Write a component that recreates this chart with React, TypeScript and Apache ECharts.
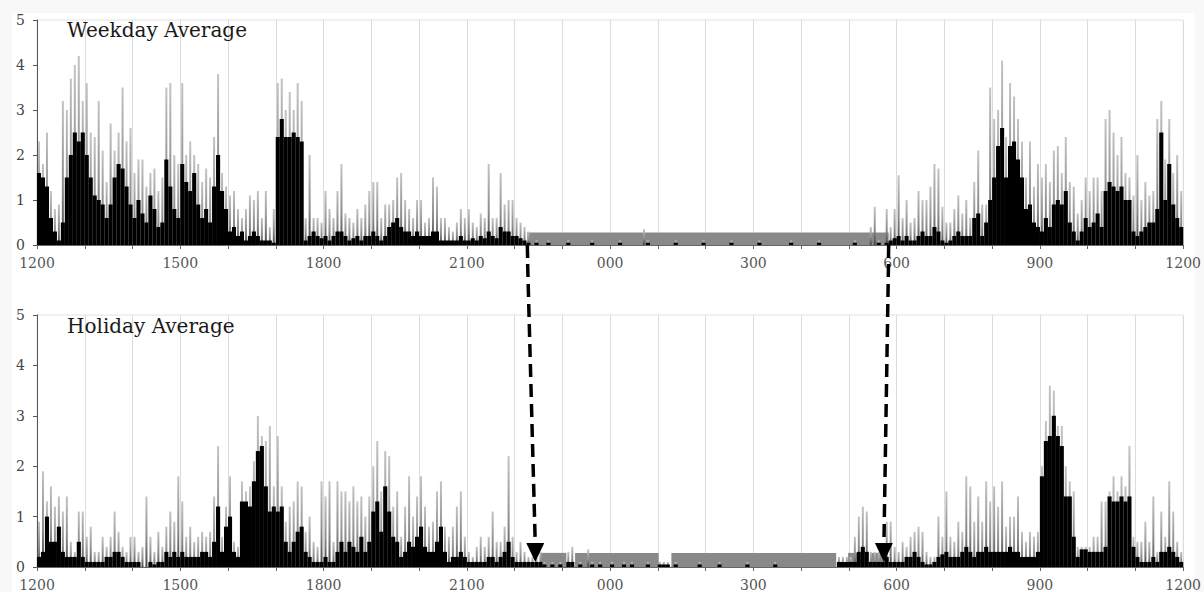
import React, { useEffect, useRef } from 'react';
import * as echarts from 'echarts';

// minutes after 12:00 noon, 5-minute bins (288 per day)
const BIN_MINUTES = 5;
const X_LABELS = ['1200', '1500', '1800', '2100', '000', '300', '600', '900', '1200'];
const PANEL_TITLES = ['Weekday Average', 'Holiday Average'];

// Weekday: black body of the distribution
const wdBody = [
  1.6, 1.5, 1.3, 0.6, 0.3, 0.1, 0.5, 1.5, 2.0, 2.5, 2.3, 2.5,
  2.0, 1.5, 1.1, 1.0, 0.9, 0.6, 0.9, 1.5, 1.8, 1.7, 1.3, 0.9,
  0.6, 1.0, 0.7, 0.5, 1.1, 0.8, 0.4, 0.5, 1.9, 1.3, 0.8, 0.6,
  1.8, 1.4, 1.2, 1.6, 0.9, 0.6, 0.8, 0.5, 1.3, 2.0, 1.2, 0.8,
  0.3, 0.4, 0.2, 0.3, 0.1, 0.2, 0.3, 0.2, 0.1, 0.1, 0.1, 0.05,
  2.4, 2.8, 2.4, 2.4, 2.5, 2.4, 2.3, 0.1, 0.2, 0.3, 0.2, 0.15,
  0.2, 0.1, 0.2, 0.3, 0.3, 0.2, 0.1, 0.15, 0.2, 0.1, 0.2, 0.2,
  0.3, 0.2, 0.1, 0.2, 0.4, 0.5, 0.6, 0.4, 0.3, 0.3, 0.2, 0.3,
  0.2, 0.2, 0.2, 0.3, 0.3, 0.1, 0.1, 0.1, 0.1, 0.1, 0.2, 0.1,
  0.1, 0.15, 0.1, 0.2, 0.15, 0.3, 0.2, 0.15, 0.4, 0.3, 0.3, 0.2,
  0.2, 0.15, 0.1, 0.05, 0, 0.05, 0, 0, 0.05, 0, 0, 0,
  0, 0.05, 0, 0, 0, 0, 0, 0.05, 0, 0, 0, 0,
  0, 0, 0.05, 0, 0, 0, 0, 0, 0, 0.05, 0, 0,
  0, 0, 0, 0, 0.05, 0, 0, 0, 0, 0, 0, 0.05,
  0, 0, 0, 0, 0, 0, 0.05, 0, 0, 0, 0, 0,
  0, 0.05, 0, 0, 0, 0, 0, 0, 0, 0.05, 0, 0,
  0, 0, 0, 0, 0.05, 0, 0, 0, 0, 0, 0, 0,
  0, 0.05, 0, 0, 0, 0, 0, 0.05, 0, 0.05, 0.1, 0.15,
  0.2, 0.1, 0.2, 0.1, 0.1, 0.2, 0.3, 0.2, 0.2, 0.4, 0.3, 0.1,
  0.05, 0.1, 0.2, 0.3, 0.2, 0.2, 0.2, 0.6, 0.7, 0.2, 0.5, 1.0,
  1.5, 2.2, 2.6, 1.5, 2.2, 2.3, 1.9, 1.5, 0.8, 0.9, 0.5, 0.4,
  0.3, 0.6, 0.4, 0.9, 1.0, 0.9, 1.2, 0.5, 0.3, 0.1, 0.3, 0.6,
  0.4, 0.5, 0.7, 0.4, 1.2, 1.4, 1.3, 1.2, 1.3, 1.0, 1.0, 0.3,
  0.2, 0.3, 0.4, 0.5, 0.5, 0.8, 2.5, 1.0, 1.8, 0.9, 0.6, 0.4,
];

// Weekday: peak values (light spikes)
const wdPeak = [
  2.3, 1.8, 2.5, 1.2, 0.8, 0.9, 3.2, 3.0, 3.7, 4.0, 4.2, 3.2,
  3.6, 2.5, 2.4, 3.2, 2.1, 1.4, 2.7, 2.1, 2.5, 3.5, 2.3, 2.6,
  1.6, 1.9, 1.9, 1.3, 1.6, 1.7, 1.2, 1.5, 3.5, 3.6, 2.0, 1.8,
  3.6, 2.0, 2.3, 2.0, 1.8, 1.4, 1.7, 1.5, 2.4, 3.8, 1.6, 1.3,
  1.1, 1.2, 0.8, 0.6, 0.8, 1.1, 1.0, 1.2, 0.6, 1.2, 0.4, 0.8,
  3.6, 3.7, 3.0, 3.4, 3.0, 3.6, 3.2, 0.6, 2.0, 0.6, 0.6, 0.5,
  1.2, 0.8, 0.6, 1.2, 1.8, 0.7, 0.6, 0.5, 0.8, 0.6, 0.9, 1.2,
  1.4, 1.4, 0.6, 0.9, 0.9, 1.0, 1.5, 1.6, 1.0, 0.8, 0.6, 1.0,
  1.0, 0.5, 0.6, 1.5, 1.3, 0.6, 0.6, 0.4, 0.3, 0.5, 0.8, 0.6,
  0.8, 0.5, 0.4, 0.7, 0.6, 1.8, 0.6, 0.6, 1.6, 0.9, 1.0, 1.0,
  0.6, 0.5, 0.4, 0.3, 0, 0.1, 0, 0, 0.1, 0, 0, 0,
  0, 0.1, 0, 0, 0, 0, 0, 0.1, 0, 0, 0, 0,
  0, 0, 0.1, 0, 0, 0, 0, 0, 0.35, 0.1, 0, 0,
  0, 0, 0, 0, 0.1, 0, 0, 0, 0, 0, 0, 0.1,
  0, 0, 0, 0, 0, 0, 0.1, 0, 0, 0, 0, 0,
  0, 0.1, 0, 0, 0, 0, 0, 0, 0, 0.1, 0, 0,
  0, 0, 0, 0, 0.1, 0, 0, 0, 0, 0, 0, 0,
  0, 0.1, 0, 0, 0, 0.4, 0.85, 0.1, 0, 0.8, 0.4, 0.8,
  1.55, 0.6, 1.0, 0.5, 0.6, 1.2, 1.0, 1.0, 1.3, 1.8, 1.7, 0.85,
  0.5, 0.5, 0.8, 1.1, 0.7, 1.0, 0.6, 1.4, 2.1, 0.9, 0.9, 3.5,
  2.8, 3.0, 4.1, 2.4, 3.6, 3.3, 2.8, 2.3, 1.5, 2.3, 1.3, 1.8,
  1.5, 1.8, 1.4, 2.1, 2.2, 1.6, 2.4, 1.4, 1.3, 0.7, 1.0, 1.5,
  1.2, 1.5, 1.5, 1.2, 2.8, 3.0, 2.5, 2.0, 2.4, 1.6, 1.5, 1.1,
  2.0, 1.0, 1.4, 1.1, 1.2, 2.8, 3.2, 1.9, 2.8, 1.6, 2.0, 1.2,
];

// Holiday: black body
const hdBody = [
  0.2, 0.3, 1.0, 0.5, 0.5, 0.8, 0.3, 0.2, 0.2, 0.2, 0.5, 0.2,
  0.1, 0.1, 0.1, 0.1, 0.1, 0.2, 0.2, 0.3, 0.3, 0.2, 0.1, 0.1,
  0.1, 0.1, 0, 0, 0.1, 0.05, 0.1, 0.1, 0.3, 0.2, 0.3, 0.2,
  0.3, 0.2, 0.2, 0.2, 0.2, 0.3, 0.3, 0.2, 0.5, 1.2, 0.3, 0.8,
  1.0, 0.3, 0.2, 1.3, 1.3, 1.2, 1.7, 2.3, 2.4, 1.6, 1.1, 1.2,
  1.1, 1.2, 0.5, 0.3, 0.5, 0.7, 0.8, 0.3, 0.2, 0.1, 0.1, 0.1,
  0.2, 0.1, 0.1, 0.3, 0.5, 0.3, 0.5, 0.4, 0.3, 0.6, 0.3, 0.5,
  1.1, 1.3, 0.7, 1.6, 1.1, 0.6, 0.5, 0.2, 0.3, 0.5, 0.4, 0.6,
  0.8, 0.4, 0.3, 0.3, 0.5, 0.8, 0.3, 0.1, 0.2, 0.2, 0.3, 0.2,
  0.1, 0.1, 0.1, 0.1, 0.1, 0.2, 0.2, 0.1, 0.2, 0.3, 0.5, 0.2,
  0.1, 0.1, 0.1, 0.1, 0.1, 0.1, 0.1, 0.05, 0, 0.05, 0, 0.05,
  0, 0.1, 0.1, 0, 0.05, 0, 0, 0.05, 0, 0.05, 0, 0,
  0.05, 0, 0, 0.05, 0, 0.05, 0, 0, 0, 0.05, 0, 0,
  0.05, 0.05, 0.05, 0, 0.05, 0, 0, 0, 0, 0, 0.05, 0,
  0, 0, 0, 0.05, 0, 0, 0, 0, 0, 0, 0.05, 0,
  0, 0, 0, 0, 0, 0.05, 0, 0, 0, 0, 0, 0,
  0, 0, 0, 0, 0, 0, 0, 0, 0, 0.1, 0.1, 0.1,
  0.1, 0.1, 0.3, 0.4, 0.3, 0.1, 0.1, 0.1, 0.1, 0.2, 0.1, 0.1,
  0.1, 0.1, 0.2, 0.2, 0.3, 0.2, 0.1, 0.05, 0.05, 0.1, 0.2, 0.25,
  0.3, 0.2, 0.2, 0.2, 0.3, 0.4, 0.3, 0.2, 0.3, 0.3, 0.4, 0.3,
  0.3, 0.3, 0.3, 0.3, 0.4, 0.3, 0.3, 0.2, 0.2, 0.2, 0.2, 0.3,
  1.8, 2.5, 2.6, 3.0, 2.6, 2.4, 1.4, 1.4, 0.6, 0.2, 0.35, 0.35,
  0.3, 0.3, 0.3, 0.3, 0.4, 1.4, 1.3, 1.3, 1.4, 1.3, 1.4, 0.4,
  0.2, 0.1, 0.1, 0.1, 0.2, 0.1, 0.3, 0.3, 0.4, 0.3, 0.2, 0.1,
];

// Holiday: peak values
const hdPeak = [
  0.9, 1.9, 1.3, 1.6, 1.2, 1.4, 1.1, 1.4, 0.5, 0.3, 1.1, 1.1,
  0.6, 0.8, 0.3, 0.3, 0.6, 0.4, 0.6, 1.1, 0.7, 0.4, 0.3, 0.6,
  0.6, 0.3, 0.4, 1.4, 0.6, 0.3, 0.7, 0.4, 0.8, 1.1, 0.9, 1.8,
  1.3, 0.6, 0.8, 0.5, 0.6, 0.7, 0.6, 0.7, 1.4, 2.4, 0.6, 1.2,
  1.8, 0.5, 0.4, 1.7, 1.5, 1.6, 2.1, 3.0, 2.6, 2.5, 2.8, 1.6,
  2.6, 1.6, 0.9, 1.2, 1.3, 1.7, 1.6, 0.7, 1.0, 0.5, 0.4, 1.7,
  1.4, 1.7, 0.5, 1.7, 1.5, 1.5, 1.3, 1.6, 1.3, 1.4, 1.0, 1.4,
  2.0, 2.5, 1.5, 2.3, 2.2, 1.2, 1.5, 0.6, 1.2, 1.8, 1.0, 1.4,
  1.8, 1.2, 0.8, 0.9, 1.5, 1.7, 0.8, 0.6, 0.8, 1.2, 1.5, 0.6,
  0.3, 0.2, 0.4, 0.6, 0.4, 0.6, 1.1, 0.5, 0.5, 0.8, 2.2, 0.6,
  0.3, 0.5, 0.3, 0.2, 0.2, 0.2, 0.3, 0.1, 0, 0.1, 0, 0.1,
  0, 0.3, 0.4, 0, 0.1, 0, 0.35, 0.1, 0, 0.1, 0, 0,
  0.1, 0, 0, 0.1, 0, 0.1, 0, 0, 0, 0.1, 0, 0,
  0.1, 0.1, 0.1, 0, 0.1, 0, 0, 0, 0, 0, 0.1, 0,
  0, 0, 0, 0.1, 0, 0, 0, 0, 0, 0, 0.1, 0,
  0, 0, 0, 0, 0, 0.1, 0, 0, 0, 0, 0, 0,
  0, 0, 0, 0, 0, 0, 0, 0, 0, 0.2, 0.2, 0.2,
  0.2, 0.6, 1.0, 1.2, 1.1, 0.3, 0.3, 0.3, 0.3, 0.9, 0.9, 0.4,
  0.3, 0.5, 0.4, 0.6, 0.7, 0.8, 0.7, 0.3, 0.2, 0.2, 1.0, 0.6,
  1.5, 0.6, 0.5, 0.9, 0.7, 1.8, 1.6, 0.9, 1.4, 0.9, 1.7, 1.3,
  1.6, 1.2, 1.7, 0.8, 1.0, 1.0, 1.4, 0.7, 0.5, 0.7, 0.6, 0.7,
  2.0, 2.9, 3.6, 3.5, 2.8, 2.8, 2.0, 1.7, 1.5, 0.4, 0.4, 0.4,
  0.4, 0.6, 0.6, 1.3, 1.3, 1.5, 1.8, 1.5, 1.8, 1.6, 2.4, 0.6,
  0.5, 0.5, 0.9, 0.5, 1.4, 0.3, 1.1, 0.6, 1.7, 1.1, 0.5, 0.3,
];

// Night-time (no data) gray blocks, minutes after noon
const wdNightStart = [616];
const wdNightEnd = [1070];
const hdNightStart = [633, 676, 797, 1019, 1047];
const hdNightEnd = [665, 781, 1004, 1032, 1066];
const NIGHT_LEVEL = 0.28;

// Arrows from weekday night boundaries to holiday night boundaries
const arrowFrom = [616, 1070];
const arrowTo = [626, 1064];
const ARROW_TIP_VALUE = 0.1;

const toPoints = (arr: number[]) => arr.map((v, i) => [i * BIN_MINUTES + BIN_MINUTES / 2, v]);

export default function App() {
  const ref = useRef<HTMLDivElement>(null);

  useEffect(() => {
    if (!ref.current) return;
    const chart = echarts.init(ref.current, undefined, { renderer: 'svg' });

    const gridDefs = [
      { left: 37, right: 17, top: 20, height: 225 },
      { left: 37, right: 17, top: 315, height: 256 },
    ];

    const mkX = (gridIndex: number, visible: boolean) => ({
      type: 'value',
      gridIndex,
      min: 0,
      max: 1440,
      interval: 60,
      show: visible,
      axisLine: { show: true, lineStyle: { color: '#666', width: 1 } },
      axisTick: { show: true, length: 4, lineStyle: { color: '#666' } },
      axisLabel: {
        formatter: (v: number) => (v % 180 === 0 ? X_LABELS[v / 180] : ''),
        color: '#555',
        fontFamily: 'DejaVu Serif',
        fontSize: 14,
        margin: 11,
        showMinLabel: true,
        showMaxLabel: true,
      },
      splitLine: { show: true, lineStyle: { color: '#dcdcdc', width: 1 } },
    });

    const mkY = (gridIndex: number) => ({
      type: 'value',
      gridIndex,
      min: 0,
      max: 5,
      interval: 1,
      axisLine: { show: true, lineStyle: { color: '#555' } },
      axisTick: { show: true, length: 4, lineStyle: { color: '#555' } },
      axisLabel: { color: '#444', fontFamily: 'DejaVu Serif', fontSize: 14, margin: 12 },
      splitLine: { show: false },
    });

    const peakColor = new echarts.graphic.LinearGradient(0, 0, 0, 1, [
      { offset: 0, color: '#c4c4c4' },
      { offset: 0.6, color: '#8a8a8a' },
      { offset: 1, color: '#444' },
    ]);

    const nightSeries = (xi: number, yi: number, starts: number[], ends: number[]) => ({
      type: 'custom',
      xAxisIndex: xi,
      yAxisIndex: yi,
      z: 1,
      silent: true,
      encode: { x: [0, 1], y: 2 },
      data: starts.map((s, i) => [s, ends[i], NIGHT_LEVEL]),
      renderItem: (_p: any, api: any) => {
        const a = api.coord([api.value(0), api.value(2)]);
        const b = api.coord([api.value(1), 0]);
        return {
          type: 'rect',
          shape: { x: a[0], y: a[1], width: b[0] - a[0], height: b[1] - a[1] },
          style: { fill: '#898989' },
        };
      },
    });

    const peakSeries = (xi: number, yi: number, arr: number[]) => ({
      type: 'bar',
      xAxisIndex: xi,
      yAxisIndex: yi,
      z: 2,
      barWidth: 2,
      silent: true,
      itemStyle: { color: peakColor },
      data: toPoints(arr),
    });

    const bodySeries = (xi: number, yi: number, arr: number[]) => ({
      type: 'bar',
      xAxisIndex: xi,
      yAxisIndex: yi,
      z: 3,
      barWidth: 4.1,
      silent: true,
      itemStyle: { color: '#000' },
      data: toPoints(arr),
    });

    chart.setOption({
      animation: false,
      backgroundColor: '#f8f8f8',
      title: PANEL_TITLES.map((t, i) => ({
        text: t,
        left: 67,
        top: i === 0 ? 20 : 316,
        padding: 0,
        textStyle: { fontFamily: 'DejaVu Serif', fontSize: 20, fontWeight: 'normal', color: '#1a1a1a' },
      })),
      grid: gridDefs.map((g) => ({ ...g, show: true, borderColor: '#e2e2e2', borderWidth: 1 })),
      xAxis: [mkX(0, true), mkX(0, false), mkX(1, true), mkX(1, false)],
      yAxis: [mkY(0), mkY(1)],
      series: [
        nightSeries(0, 0, wdNightStart, wdNightEnd),
        peakSeries(1, 0, wdPeak),
        bodySeries(0, 0, wdBody),
        nightSeries(2, 1, hdNightStart, hdNightEnd),
        peakSeries(3, 1, hdPeak),
        bodySeries(2, 1, hdBody),
      ],
    });

    const gfx: any[] = [
      {
        type: 'rect',
        z: -10,
        silent: true,
        shape: { x: 12, y: 13, width: 1183, height: 579 },
        style: { fill: '#fff' },
      },
    ];
    arrowFrom.forEach((m, i) => {
      const p0 = chart.convertToPixel({ xAxisIndex: 0, yAxisIndex: 0 }, [m, 0]) as number[];
      const p1 = chart.convertToPixel({ xAxisIndex: 2, yAxisIndex: 1 }, [arrowTo[i], ARROW_TIP_VALUE]) as number[];
      const headH = 19;
      const headW = 9;
      const stub = 13;
      const t = stub / (p1[1] - p0[1]);
      const sx = p0[0] + (p1[0] - p0[0]) * t;
      gfx.push({
        type: 'line',
        z: 100,
        shape: { x1: p0[0], y1: p0[1], x2: sx, y2: p0[1] + stub },
        style: { stroke: '#000', lineWidth: 3.5 },
      });
      gfx.push({
        type: 'line',
        z: 100,
        shape: { x1: sx, y1: p0[1] + stub + 6, x2: p1[0], y2: p1[1] - headH + 2 },
        style: { stroke: '#000', lineWidth: 3.5, lineDash: [13, 7] },
      });
      gfx.push({
        type: 'polygon',
        z: 100,
        shape: {
          points: [
            [p1[0] - headW, p1[1] - headH],
            [p1[0] + headW, p1[1] - headH],
            [p1[0], p1[1]],
          ],
        },
        style: { fill: '#000' },
      });
    });
    chart.setOption({ graphic: gfx });

    return () => chart.dispose();
  }, []);

  return (
    <div
      ref={ref}
      style={{ position: 'absolute', left: 0, top: 0, width: 1204, height: 592, background: '#fff' }}
    />
  );
}
